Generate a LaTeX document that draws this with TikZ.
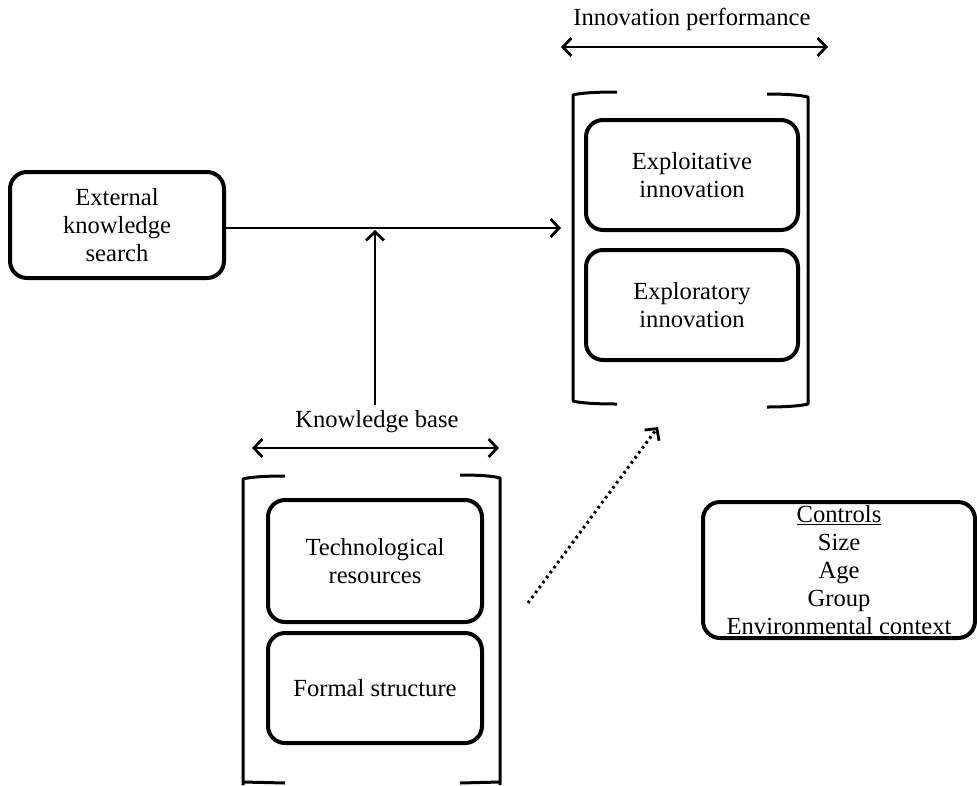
\documentclass[tikz,border=0pt]{standalone}
\usepackage{fontspec}
\setmainfont{Liberation Serif}
\usetikzlibrary{arrows.meta}
\begin{document}
\begin{tikzpicture}[x=1pt,y=-1pt,
  txt/.style={font=\fontsize{24.6}{27.8}\selectfont, align=center, inner sep=0pt},
  box/.style={txt, draw, line width=4pt, rounded corners=17pt},
  tip/.style={Straight Barb[length=8.5pt,width=18pt,line width=2.8pt]},
  arr/.style={line width=2.8pt, -{Straight Barb[length=8.5pt,width=18pt,line width=2.8pt]}},
  darr/.style={arr, line width=3pt, dash pattern=on 2.6pt off 3.6pt},
  dbl/.style={line width=2.8pt, {Straight Barb[length=8.5pt,width=18pt,line width=2.8pt]}-{Straight Barb[length=8.5pt,width=18pt,line width=2.8pt]}},
  brk/.style={line width=3pt, line join=round, line cap=butt}]
\useasboundingbox (0,0) rectangle (977,785);

% boxes
\node[box, minimum width=214pt, minimum height=106pt] (ext) at (117,225) {External\\knowledge\\search};
\node[box, minimum width=212pt, minimum height=110pt] (exploit) at (692,175) {Exploitative\\innovation};
\node[box, minimum width=212pt, minimum height=110pt] (explor) at (692,305) {Exploratory\\innovation};
\node[box, minimum width=214pt, minimum height=122pt] (tech) at (375,561) {Technological\\resources};
\node[box, minimum width=214pt, minimum height=110pt] (formal) at (375,688) {Formal structure};
\node[box, minimum width=272pt, minimum height=136pt] (controls) at (839,570)
  {\underline{Controls}\\Size\\Age\\Group\\Environmental context};

% labels
\node[txt] (iplabel) at (692,19) {Innovation performance};
\node[txt] (kblabel) at (377,422) {Knowledge base};

% brackets: innovation performance
\draw[brk] (617,92) .. controls (595,92) and (580,93) .. (573,95) -- (573,401) .. controls (580,403) and (595,404) .. (617,404);
\draw[brk] (767,94) .. controls (785,94) and (800,95) .. (808,97) -- (808,404) .. controls (800,406) and (785,407) .. (767,407);
% brackets: knowledge base
\draw[brk] (285,476) .. controls (265,476) and (250,477) .. (243,479) -- (243,785);
\draw[brk] (460,475) .. controls (480,475) and (493,476) .. (500,478) -- (500,785);
\draw[brk] (243,782) -- (285,783);
\draw[brk] (460,783) -- (500,782);

% double arrows
\coordinate (ipL) at (561,47);
\coordinate (ipR) at (828,47);
\draw[dbl] (ipL) -- (ipR);
\coordinate (kbL) at (252,448);
\coordinate (kbR) at (499,448);
\draw[dbl] (kbL) -- (kbR);

% connectors
\coordinate (inTip) at (561,228);
\draw[arr] (ext.east |- inTip) -- (inTip);
\coordinate (mod) at (375,230);
\coordinate (kbTop) at (375,405);
\draw[arr] (kbTop) -- (mod);
\coordinate (dStart) at (528,603);
\coordinate (dEnd) at (658,427);
\draw[darr] (dStart) -- (dEnd);
\end{tikzpicture}
\end{document}
